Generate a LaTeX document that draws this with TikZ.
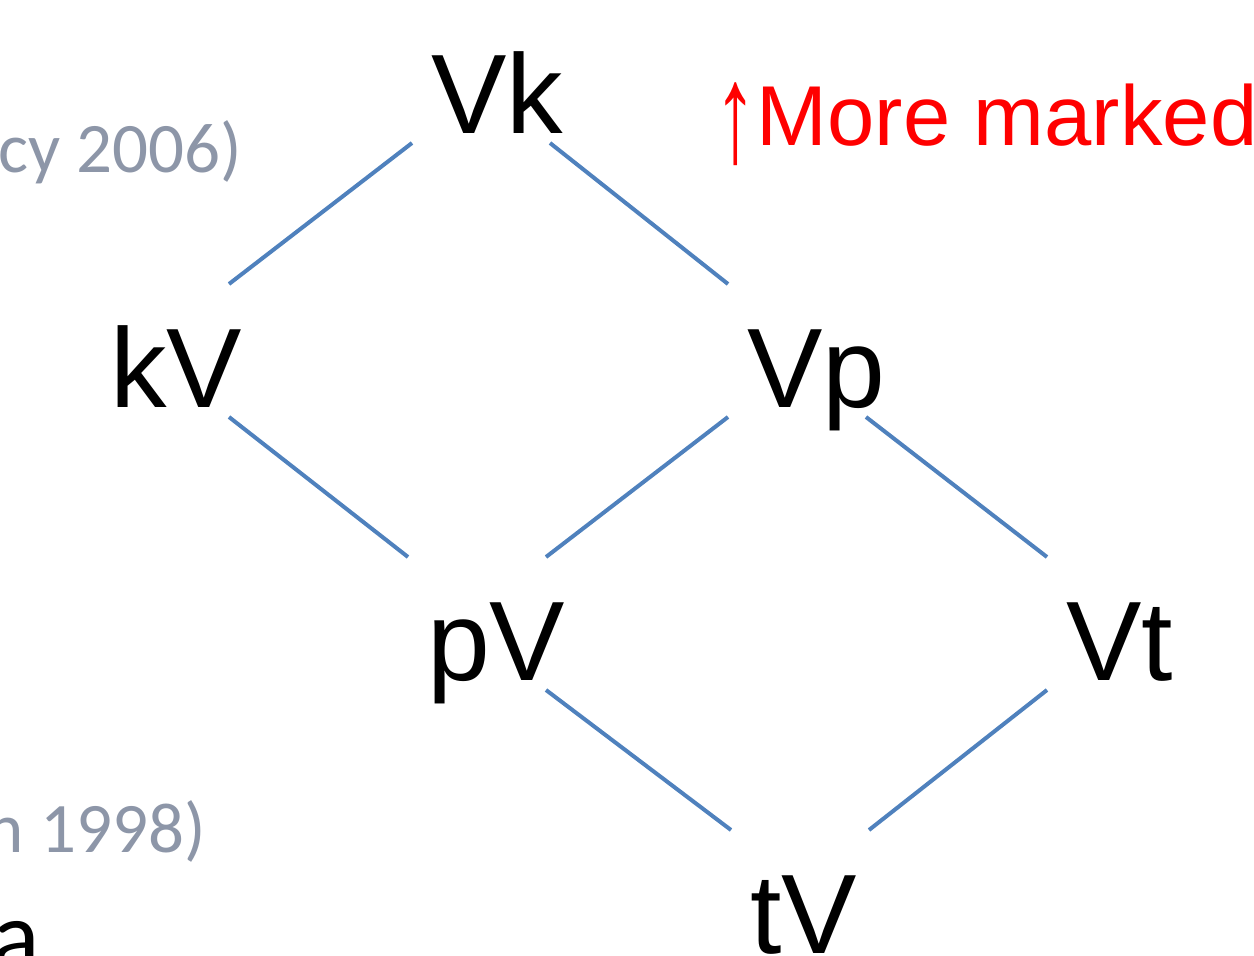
\documentclass[tikz,border=0pt]{standalone}
\usepackage{fontspec}
\setmainfont{Liberation Sans}
\newfontfamily\notefont{Carlito}
\definecolor{linkblue}{RGB}{79,129,189}
\definecolor{notegray}{RGB}{141,150,168}
\definecolor{markred}{RGB}{255,0,0}

\tikzset{
  syl/.style={anchor=base west, inner xsep=19pt, inner ysep=0pt, outer sep=0pt,
    text width=100pt, align=left, text height=123pt, text depth=10pt,
    font=\fontsize{113}{120}\selectfont},
  link/.style={draw=linkblue, line width=4pt},
  note/.style={inner sep=0pt, text=notegray, font=\notefont\fontsize{71}{80}\selectfont},
}

\begin{document}
\begin{tikzpicture}[x=1pt,y=-1pt]
        \useasboundingbox (0,0) rectangle (1254,956);
        \clip (0,0) rectangle (1254,956);

        \coordinate (A) at (412,133);
        \coordinate (B) at (91,407);
        \coordinate (C) at (728,407);
        \coordinate (D) at (408,680);
        \coordinate (E) at (1047,680);
        \coordinate (F) at (731,953);
        \node[syl] (Vk) at (A) {Vk};
        \node[syl] (kV) at (B) {kV};
        \node[syl] (Vp) at (C) {Vp};
        \node[syl] (pV) at (D) {pV};
        \node[syl] (Vt) at (E) {Vt};
        \node[syl] (tV) at (F) {tV};
        \draw[link] (Vk.south west) -- (kV.north east);
        \draw[link] (Vk.south east) -- (Vp.north west);
        \draw[link] (kV.south east) -- (pV.north west);
        \draw[link] (Vp.south west) -- (pV.north east);
        \draw[link] (Vp.south east) -- (Vt.north west);
        \draw[link] (pV.south east) -- (tV.north west);
        \draw[link] (Vt.south west) -- (tV.north east);

        \node[anchor=base west, inner sep=0pt, text=markred,
          font=\fontsize{85}{90}\selectfont] (marked) at (714,145)
          {\raisebox{-16pt}{\scalebox{1}[1.65]{↑}}More marked};
        \node[note, anchor=base east] (cite1) at (242,172) {cy 2006)};
        \node[note, anchor=base east] (cite2) at (206,852) {n 1998)};
        \node[anchor=base west, inner sep=0pt,
          font=\notefont\fontsize{99}{100}\selectfont] (cut) at (-8,969) {a};
      \end{tikzpicture}
\end{document}
